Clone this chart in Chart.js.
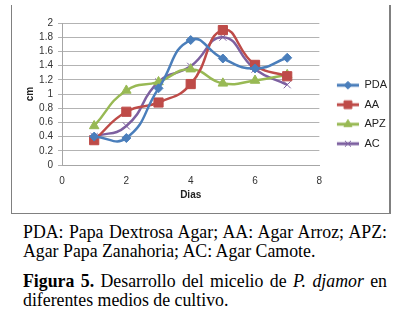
<!DOCTYPE html>
<html>
<head>
<meta charset="utf-8">
<script src="https://cdn.jsdelivr.net/npm/chart.js@4/dist/chart.umd.min.js"></script>
<style>
  body { margin: 0; background: #fff; width: 409px; height: 319px; overflow: hidden; position: relative; }
  #box { position: absolute; left: 11px; top: 5px; width: 377px; height: 208px;
         border-left: 1px solid #808080; border-right: 2px solid #808080; border-bottom: 1px solid #808080; }
  #wrap { position: absolute; left: 12px; top: 0; width: 385px; height: 214px; }
  .cap { position: absolute; left: 23px; width: 364px; font-family: "Liberation Serif", serif;
         font-size: 17.8px; line-height: 19px; color: #000; margin: 0; white-space: nowrap; }
  .just { text-align: justify; text-align-last: justify; }
</style>
</head>
<body>
<div id="box"></div>
<div id="wrap"><canvas id="grafico"></canvas></div>
<div class="cap" style="top:223px">
  <div class="just">PDA: Papa Dextrosa Agar; AA: Agar Arroz; APZ:</div>
  <div>Agar Papa Zanahoria; AC: Agar Camote.</div>
</div>
<div class="cap" style="top:272px">
  <div class="just"><b>Figura 5.</b> Desarrollo del micelio de <i>P. djamor</i> en</div>
  <div>diferentes medios de cultivo.</div>
</div>
<script>
// Dias de medicion
const dias = [1, 2, 3, 4, 5, 6, 7];
// Crecimiento del micelio (cm) por medio de cultivo
const pda = [0.40, 0.38, 1.08, 1.76, 1.50, 1.36, 1.51];
const aa  = [0.35, 0.75, 0.88, 1.14, 1.90, 1.41, 1.25];
const apz = [0.55, 1.05, 1.17, 1.35, 1.15, 1.19, 1.27];
const ac  = [0.40, 0.55, 1.17, 1.39, 1.80, 1.35, 1.13];
const xTicks = [0, 2, 4, 6, 8];
const yTicks = [0, 0.2, 0.4, 0.6, 0.8, 1, 1.2, 1.4, 1.6, 1.8, 2];

const series = [
    { label: 'PDA', data: pda, color: '#4A7EBB', punto: 'rectRot', radio: 4.5 },
    { label: 'AA',  data: aa,  color: '#BE4B48', punto: 'rect', radio: 6.5 },
    { label: 'APZ', data: apz, color: '#98B954', punto: 'triangle', radio: 5.5 },
    { label: 'AC',  data: ac,  color: '#7D60A0', punto: 'crossRot', radio: 5 }
];

// Icono de leyenda: linea con marcador en el centro (con margen a la izquierda)
function legendIcon(s) {
    const c = document.createElement('canvas');
    c.width = 31; c.height = 12;
    const g = c.getContext('2d');
    g.strokeStyle = s.color;
    g.lineWidth = 3;
    g.beginPath(); g.moveTo(9, 6); g.lineTo(31, 6); g.stroke();
    g.fillStyle = s.color;
    g.lineWidth = 1;
    Chart.helpers.drawPoint(g, { pointStyle: s.punto, radius: s.radio * 0.85, rotation: 0, borderWidth: 1 }, 20, 6);
    return c;
}

const datasets = series.map(s => ({
    label: s.label,
    data: dias.map((d, i) => ({ x: d, y: s.data[i] })),
    borderColor: s.color,
    backgroundColor: s.color,
    borderWidth: 2.5,
    tension: 0.5,
    pointStyle: s.punto,
    pointRadius: s.radio,
    pointBorderWidth: 1,
    pointBorderColor: s.color,
    pointBackgroundColor: s.color,
    icon: legendIcon(s)
}));

const ctx = document.getElementById('grafico').getContext('2d');
new Chart(ctx, {
    type: 'line',
    data: { datasets: datasets },
    options: {
        responsive: true,
        maintainAspectRatio: false,
        animation: false,
        layout: { padding: { top: 23, bottom: 8, left: 0, right: 0 } },
        scales: {
            x: {
                type: 'linear',
                min: 0, max: 8,
                afterBuildTicks: axis => { axis.ticks = xTicks.map(v => ({ value: v })); },
                afterFit: axis => { axis.height = 41; },
                grid: { display: false },
                border: { display: true, color: '#a6a6a6', width: 1 },
                ticks: { color: '#333', font: { family: 'Liberation Sans', size: 10 }, padding: 2 },
                title: { display: true, text: 'Dias', color: '#222',
                         font: { family: 'Liberation Sans', size: 10, weight: 'bold' }, padding: { top: 0, bottom: 5 } }
            },
            y: {
                min: 0, max: 2,
                afterBuildTicks: axis => { axis.ticks = yTicks.map(v => ({ value: v })); },
                afterFit: axis => { axis.width = 50; },
                grid: { color: '#b3b3b3', lineWidth: 1, drawTicks: true, tickLength: 4 },
                border: { display: true, color: '#a6a6a6', width: 1 },
                ticks: { color: '#333', font: { family: 'Liberation Sans', size: 10 }, padding: 5, autoSkip: false,
                         callback: v => String(Math.round(v * 10) / 10) },
                title: { display: true, text: 'cm', color: '#222',
                         font: { family: 'Liberation Sans', size: 10, weight: 'bold' }, padding: { top: 12, bottom: 0 } }
            }
        },
        plugins: {
            legend: {
                position: 'right',
                labels: {
                    usePointStyle: true,
                    pointStyleWidth: 31,
                    padding: 8.5,
                    color: '#222',
                    font: { family: 'Liberation Sans', size: 11 },
                    generateLabels: chart => chart.data.datasets.map((ds, i) => ({
                        text: ds.label,
                        pointStyle: ds.icon,
                        fillStyle: ds.borderColor,
                        strokeStyle: ds.borderColor,
                        lineWidth: 0,
                        fontColor: '#222',
                        datasetIndex: i,
                        hidden: false
                    }))
                }
            },
            tooltip: { enabled: false }
        }
    }
});
</script>
</body>
</html>
